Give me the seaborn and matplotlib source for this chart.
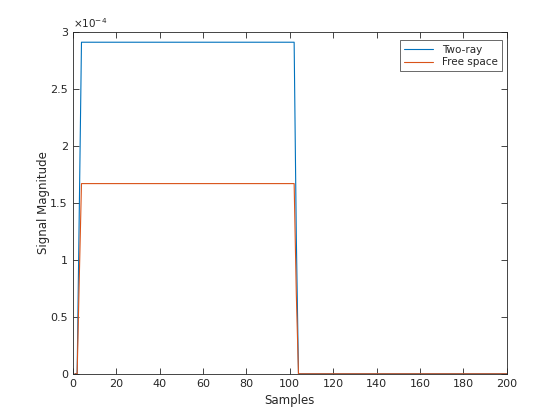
import matplotlib
matplotlib.use("Agg")
import matplotlib.pyplot as plt
import seaborn as sns
import pandas as pd

# Breakpoints of the two signals (samples, magnitude)
samples = [1, 2, 3, 4, 102, 103, 104, 200]
two_ray = [0.0, 0.0, 1.45e-4, 2.906e-4, 2.906e-4, 1.2e-4, 0.0, 0.0]
free_space = [0.0, 0.0, 0.85e-4, 1.667e-4, 1.667e-4, 0.7e-4, 0.0, 0.0]
series_names = ["Two-ray", "Free space"]
x_ticks = list(range(0, 201, 20))
y_tick_labels = ["0", "0.5", "1", "1.5", "2", "2.5", "3"]

sns.set_style("ticks")
plt.rcParams["font.family"] = ["DejaVu Sans"]

df = pd.DataFrame({
    "Samples": samples * 2,
    "Magnitude": two_ray + free_space,
    "Signal": [series_names[0]] * len(samples) + [series_names[1]] * len(samples),
})

fig = plt.figure(figsize=(5.6, 4.2), dpi=100)
ax = fig.add_axes([0.13, 0.11, 0.775, 0.815])

palette = {"Two-ray": "#0072BD", "Free space": "#D95319"}
sns.lineplot(data=df, x="Samples", y="Magnitude", hue="Signal",
             hue_order=series_names, palette=palette, linewidth=0.8,
             ax=ax, legend=True)

ax.set_xlim(0, 200)
ax.set_ylim(0, 3e-4)
ax.set_xticks(x_ticks)
ax.set_yticks([i * 0.5e-4 for i in range(7)])
ax.set_yticklabels(y_tick_labels)

gray = "#262626"
for s in ax.spines.values():
    s.set_visible(True)
    s.set_color(gray)
    s.set_linewidth(0.6)
ax.tick_params(direction="in", length=4, width=0.6, colors=gray,
               labelsize=8, top=True, right=True)
ax.set_xlabel("Samples", fontsize=8.5, color=gray)
ax.set_ylabel("Signal Magnitude", fontsize=8.5, color=gray, labelpad=0)

ax.text(0.0, 1.005, r"$\times10^{-4}$", transform=ax.transAxes,
        ha="left", va="bottom", fontsize=7.5, color=gray)

leg = ax.legend(loc="upper right", fontsize=7.5, frameon=True, fancybox=False,
                handlelength=2.8, borderpad=0.4, labelspacing=0.25,
                borderaxespad=0, bbox_to_anchor=(0.9885, 0.974))
leg.get_frame().set_edgecolor(gray)
leg.get_frame().set_linewidth(0.6)
for line in leg.get_lines():
    line.set_linewidth(0.8)

fig.savefig("out.png", dpi=100)
